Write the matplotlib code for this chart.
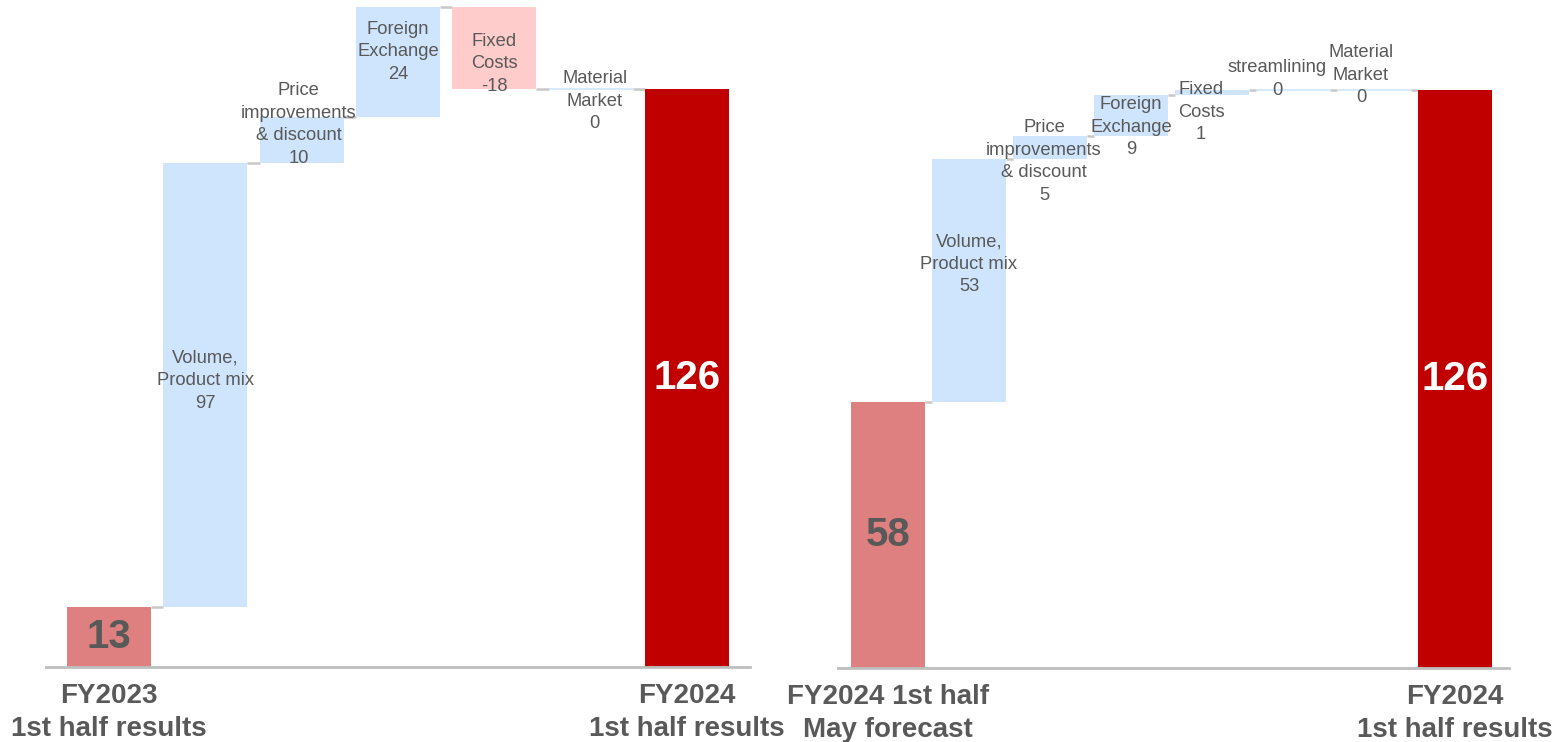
import numpy as np
import matplotlib.pyplot as plt

plt.rcParams['font.family'] = ['Liberation Sans', 'DejaVu Sans']

# left chart: FY2023 1H -> FY2024 1H
left_start = 13
left_names = ["Volume,\nProduct mix", "Price\nimprovements\n& discount",
              "Foreign\nExchange", "Fixed\nCosts", "Material\nMarket"]
left_values = [97, 10, 24, -18, 0]
left_end = 126
left_ends = ["FY2023\n1st half results", "FY2024\n1st half results"]

# right chart: May forecast -> FY2024 1H
right_start = 58
right_names = ["Volume,\nProduct mix", "Price\nimprovements\n& discount",
               "Foreign\nExchange", "Fixed\nCosts", "streamlining", "Material\nMarket"]
right_values = [53, 5, 9, 1, 0, 0]
right_end = 126
right_ends = ["FY2024 1st half\nMay forecast", "FY2024\n1st half results"]

# label nudges (pixels, x / y) to mimic the slide placement
left_shift = [(0, 4), (-3, 15), (0, 10), (0, -16), (4, -12)]
right_shift = [(0, 16), (-6, -14), (0, -12), (-11, -20), (-16, 11), (-13, 15)]

GREY = '#595959'
START_C = '#DF8080'
UP_C = '#CFE5FD'
DOWN_C = '#FFCCCC'
END_C = '#C00000'
LINE_C = '#C8C8C8'


def waterfall(ax, start, names, values, end, ends, shift, width, xlim):
    n = len(values)
    x = np.arange(n + 2)
    levels = [start]
    for v in values:
        levels.append(levels[-1] + v)

    ax.bar(x[0], start, width, color=START_C, zorder=2)
    for i, v in enumerate(values):
        prev = levels[i]
        col = UP_C if v >= 0 else DOWN_C
        ax.bar(x[i + 1], abs(v), width, bottom=min(prev, prev + v), color=col,
               edgecolor=col, linewidth=1.2 if v == 0 else 0, zorder=2)
    ax.bar(x[-1], end, width, color=END_C, zorder=2)

    # connectors
    for i in range(n + 1):
        ax.plot([x[i] + width / 2, x[i + 1] - width / 2], [levels[i], levels[i]],
                color=LINE_C, lw=1.8, zorder=1, solid_capstyle='butt')

    # step labels
    for i, v in enumerate(values):
        prev = levels[i]
        mid = prev + v / 2
        ax.annotate(f"{names[i]}\n{v}", (x[i + 1], mid), xytext=shift[i],
                    textcoords='offset pixels', ha='center', va='center',
                    fontsize=13.2, color=GREY, linespacing=1.42, zorder=3)

    ax.text(x[0], start / 2, str(start), ha='center', va='center',
            fontsize=29, fontweight='bold', color=GREY, zorder=3)
    ax.text(x[-1], end / 2, str(end), ha='center', va='center',
            fontsize=29, fontweight='bold', color='white', zorder=3)

    for xi, lab in zip([x[0], x[-1]], ends):
        ax.annotate(lab, (xi, 0), xytext=(0, -16), textcoords='offset pixels',
                    ha='center', va='top', fontsize=20, fontweight='bold',
                    color=GREY, linespacing=1.35, annotation_clip=False)

    ax.set_xlim(*xlim)
    ax.set_ylim(0, 145)
    for s in ['top', 'left', 'right']:
        ax.spines[s].set_visible(False)
    ax.spines['bottom'].set_color('#BFBFBF')
    ax.spines['bottom'].set_linewidth(2)
    ax.set_xticks([])
    ax.set_yticks([])


fig = plt.figure(figsize=(15.52, 7.42), dpi=100)
ax1 = fig.add_axes([46 / 1552, 75 / 742, 704 / 1552, 665 / 742])
ax2 = fig.add_axes([838 / 1552, 74 / 742, 671 / 1552, 665 / 742])

waterfall(ax1, left_start, left_names, left_values, left_end, left_ends,
          left_shift, 0.87, (-0.655, 6.655))
waterfall(ax2, right_start, right_names, right_values, right_end, right_ends,
          right_shift, 0.91, (-0.617, 7.667))

fig.savefig('out.png', dpi=100)
